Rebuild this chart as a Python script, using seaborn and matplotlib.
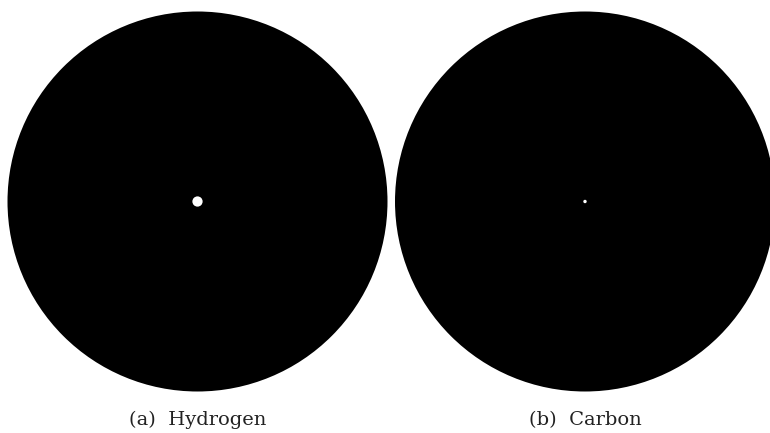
import matplotlib
matplotlib.use("Agg")
import matplotlib.pyplot as plt
from matplotlib.patches import Circle
import seaborn as sns

# Atom sketches: black disk (atom) with a white nucleus at the centre
labels = ["(a)  Hydrogen", "(b)  Carbon"]
atom_radius = [1.0, 1.0]
nucleus_radius = [0.027, 0.009]

sns.set_theme(style="white")
plt.rcParams['font.family'] = ['DejaVu Serif']

W, H = 770, 433
fig = plt.figure(figsize=(W / 100, H / 100), dpi=100)
fig.patch.set_facecolor("white")

centres_px = [(197.5, 201.5), (585.0, 201.5)]
r_px = 190

for (cx, cy), lab, ra, rn in zip(centres_px, labels, atom_radius, nucleus_radius):
    ax = fig.add_axes([(cx - r_px) / W, 1 - (cy + r_px) / H, 2 * r_px / W, 2 * r_px / H])
    ax.set_xlim(-1, 1)
    ax.set_ylim(-1, 1)
    ax.set_aspect("equal")
    ax.add_patch(Circle((0, 0), ra, color="black", lw=0, clip_on=False))
    ax.add_patch(Circle((0, 0), rn, color="white", lw=0))
    ax.axis("off")
    fig.text(cx / W, 1 - 425 / H, lab, ha="center", va="baseline", fontsize=14, color="#222222")

fig.savefig("out.png", dpi=100, facecolor="white")
